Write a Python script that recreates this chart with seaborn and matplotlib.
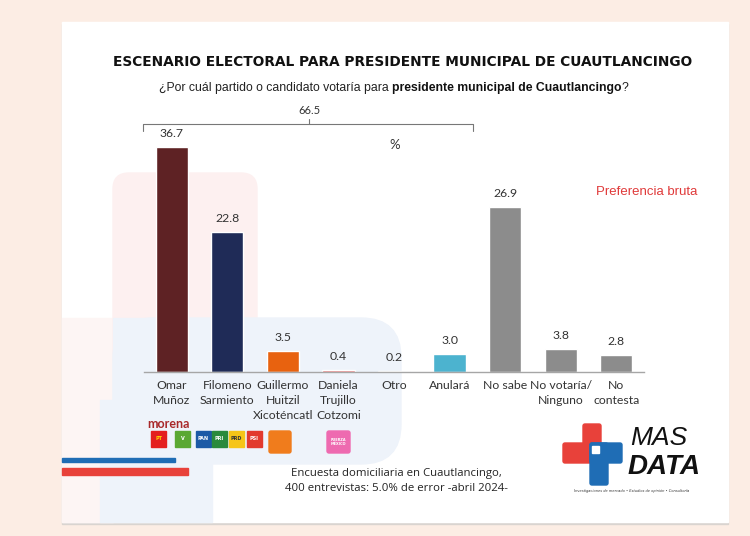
import matplotlib
matplotlib.use("Agg")
import matplotlib.pyplot as plt
from matplotlib.patches import FancyBboxPatch, Rectangle
import pandas as pd
import seaborn as sns

# data
categories = ["Omar\nMuñoz", "Filomeno\nSarmiento", "Guillermo\nHuitzil\nXicoténcatl",
              "Daniela\nTrujillo\nCotzomi", "Otro", "Anulará", "No sabe",
              "No votaría/\nNinguno", "No\ncontesta"]
values = [36.7, 22.8, 3.5, 0.4, 0.2, 3.0, 26.9, 3.8, 2.8]
bar_colors = ["#5e2224", "#1f2b57", "#e8620f", "#e86a6a", "#8b87b8",
              "#4cb3cf", "#8c8c8c", "#8c8c8c", "#8c8c8c"]
bracket_total = "66.5"

title = "ESCENARIO ELECTORAL PARA PRESIDENTE MUNICIPAL DE CUAUTLANCINGO"
subtitle_parts = [("¿Por cuál partido o candidato votaría para ", "normal"),
                  ("presidente municipal de Cuautlancingo", "bold"),
                  ("?", "normal")]
footer = "Encuesta domiciliaria en Cuautlancingo,\n400 entrevistas: 5.0% de error -abril 2024-"

sns.set_style("white")
plt.rcParams["font.family"] = ["DejaVu Sans"]

fig = plt.figure(figsize=(7.5, 5.36), dpi=100)
fig.patch.set_facecolor("#fcede4")

# background layer in pixel coordinates
bg = fig.add_axes([0, 0, 1, 1], zorder=0)
bg.set_xlim(0, 750)
bg.set_ylim(536, 0)
bg.axis("off")

bg.add_patch(Rectangle((62, 24), 666, 500, color="#d9d4d0", zorder=0))   # shadow
bg.add_patch(Rectangle((62, 22), 666, 500, color="white", zorder=1))     # card

# decorative soft shapes
pink = "#fdf0f0"
blue = "#eef3fa"
bg.add_patch(Rectangle((62, 318), 51, 204, color="#fdf5f4", zorder=2))
bg.add_patch(FancyBboxPatch((113, 173), 144, 200, boxstyle="round,pad=0,rounding_size=16",
                            color=pink, zorder=2))
bg.add_patch(FancyBboxPatch((113, 318), 288, 146, boxstyle="round,pad=0,rounding_size=40",
                            color=blue, zorder=3))
bg.add_patch(Rectangle((113, 318), 40, 146, color=blue, zorder=3))
bg.add_patch(Rectangle((100, 400), 112, 122, color=blue, zorder=3))

# red / blue stripes bottom left
bg.add_patch(Rectangle((62, 458), 113, 3.5, color="#1f6db5", zorder=4))
bg.add_patch(Rectangle((62, 468), 126, 7, color="#e8413a", zorder=4))

# title & subtitle
bg.text(403, 62, title, ha="center", va="center", fontsize=9.9, fontweight="bold",
        color="#111111", family="DejaVu Sans", zorder=5)

fig.canvas.draw()
renderer = fig.canvas.get_renderer()
runs = []
x = 0.0
for txt, weight in subtitle_parts:
    t = bg.text(0, 88, txt, ha="left", va="center", fontsize=8.8, fontweight=weight,
                color="#111111" if weight == "bold" else "#222222",
                family="Liberation Sans", zorder=5)
    w = t.get_window_extent(renderer).width
    runs.append((t, x))
    x += w
start = 394 - x / 2
for t, off in runs:
    t.set_x(start + off)

# bracket over the first six categories
bg.plot([143, 143, 473, 473], [131, 124, 124, 131], color="#777777", lw=0.8, zorder=5)
bg.plot([309, 309], [124, 119], color="#777777", lw=0.8, zorder=5)
bg.text(309, 111, bracket_total, ha="center", va="center", fontsize=8, color="#333333",
        family="Lato", zorder=5)
bg.text(395, 145, "%", ha="center", va="center", fontsize=9.5, color="#333333",
        family="Lato", zorder=5)
bg.text(647, 192, "Preferencia bruta", ha="center", va="center", fontsize=9.5,
        color="#e03a3a", family="Liberation Sans", zorder=5)

# party logos (simplified)
bg.text(147, 424, "morena", ha="left", va="center", fontsize=9, fontweight="bold",
        color="#a8282a", family="Lato", zorder=5)
logo_specs = [(151, "#e41f1f", "PT", "#ffd500"), (175, "#5aa832", "V", "white"),
              (196, "#1c5aa6", "PAN", "white"), (212, "#2a8a3c", "PRI", "white"),
              (229, "#f6c518", "PRD", "#333333"), (247, "#e23a2e", "PSI", "white")]
for x0, col, lab, tcol in logo_specs:
    bg.add_patch(Rectangle((x0, 431), 15, 16, color=col, zorder=5))
    bg.text(x0 + 7.5, 439, lab, ha="center", va="center", fontsize=3.5,
            fontweight="bold", color=tcol, zorder=6)
bg.add_patch(FancyBboxPatch((269, 431), 22, 22, boxstyle="round,pad=0,rounding_size=2",
                            color="#f07c1c", zorder=5))
bg.add_patch(FancyBboxPatch((327, 431), 23, 22, boxstyle="round,pad=0,rounding_size=2",
                            color="#ee6ab0", zorder=5))
bg.text(338.5, 442, "FUERZA\nMÉXICO", ha="center", va="center", fontsize=2.5,
        color="white", fontweight="bold", zorder=6)

# footer
bg.text(396, 481, footer, ha="center", va="center", fontsize=8.2, color="#222222",
        family="Open Sans", linespacing=1.4, zorder=5)

# MAS DATA logo
bg.add_patch(FancyBboxPatch((583, 424), 18, 36, boxstyle="round,pad=0,rounding_size=2",
                            color="#e8413a", zorder=5))
bg.add_patch(FancyBboxPatch((563, 443), 38, 20, boxstyle="round,pad=0,rounding_size=2",
                            color="#e8413a", zorder=5))
bg.add_patch(FancyBboxPatch((590, 443), 32, 20, boxstyle="round,pad=0,rounding_size=2",
                            color="#1f6db5", zorder=6))
bg.add_patch(FancyBboxPatch((590, 443), 18, 42, boxstyle="round,pad=0,rounding_size=2",
                            color="#1f6db5", zorder=6))
bg.add_patch(Rectangle((592, 446), 7, 7, color="white", zorder=7))
bg.text(630, 438, "MAS", ha="left", va="center", fontsize=19, style="italic",
        color="#111111", family="Liberation Sans", zorder=5)
bg.text(628, 467, "DATA", ha="left", va="center", fontsize=20, style="italic",
        fontweight="bold", color="#111111", family="Liberation Sans", zorder=5)
bg.text(632, 491, "Investigaciones de mercado • Estudios de opinión • Consultoría",
        ha="center", va="center", fontsize=2.6, style="italic", color="#333333", zorder=5)

# bar chart
df = pd.DataFrame({"cat": categories, "val": values})
ax = fig.add_axes([144 / 750, 164 / 536, 500 / 750, 245 / 536], zorder=2)
ax.patch.set_alpha(0)
sns.barplot(data=df, x="cat", y="val", hue="cat", palette=bar_colors, legend=False,
            width=0.58, saturation=1, ax=ax)
ax.set_xlim(-0.5, 8.5)
ax.set_ylim(0, 40)
ax.set_xlabel("")
ax.set_ylabel("")
ax.set_yticks([])
for s in ["top", "right", "left"]:
    ax.spines[s].set_visible(False)
ax.spines["bottom"].set_color("#a6a6a6")
ax.spines["bottom"].set_linewidth(1)
ax.tick_params(axis="x", length=0, pad=6)
for lab in ax.get_xticklabels():
    lab.set_fontsize(8.8)
    lab.set_family("Lato")
    lab.set_color("#333333")
    lab.set_va("top")
    lab.set_linespacing(1.4)

for i, v in enumerate(values):
    ax.text(i, v + 1.3, f"{v:.1f}", ha="center", va="bottom", fontsize=8.8,
            color="#333333", family="Lato")

fig.savefig("out.png", dpi=100, facecolor=fig.get_facecolor())
